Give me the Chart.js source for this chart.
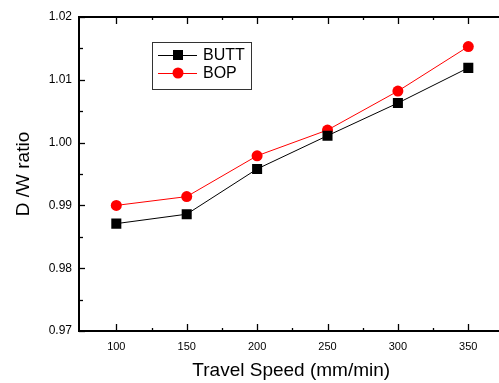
<!DOCTYPE html>
<html>
<head>
<meta charset="utf-8">
<script src="https://cdn.jsdelivr.net/npm/chart.js@4"></script>
<style>
  html, body { margin: 0; padding: 0; background: #fff; overflow: hidden; }
  #wrap { width: 499px; height: 383px; overflow: hidden; }
</style>
</head>
<body>
<div id="wrap"><canvas id="speedChart" width="520" height="383"></canvas></div>
<script>
// Data
const speeds = [100, 150, 200, 250, 300, 350];
const buttRatio = [0.9871, 0.9886, 0.9958, 1.0011, 1.0063, 1.0119];
const bopRatio = [0.9900, 0.9914, 0.9979, 1.0020, 1.0082, 1.0153];
const xTicks = [100, 150, 200, 250, 300, 350];
const yTicks = [0.97, 0.98, 0.99, 1.00, 1.01, 1.02];

const FONT = 'Arial, "Liberation Sans", sans-serif';

// frame, inward ticks and the legend box
const framePlugin = {
    id: 'frame',
    afterDraw(chart) {
        const ctx = chart.ctx;
        const area = chart.chartArea;
        const xs = chart.scales.x;
        const ys = chart.scales.y;
        ctx.save();
        ctx.strokeStyle = '#000';

        // ticks (right side is cut off in the original)
        ctx.lineWidth = 1.3;
        function xTick(v, len) {
            const px = Math.round(xs.getPixelForValue(v)) + 0.5;
            ctx.beginPath();
            ctx.moveTo(px, area.bottom); ctx.lineTo(px, area.bottom - len);
            ctx.moveTo(px, area.top); ctx.lineTo(px, area.top + len);
            ctx.stroke();
        }
        function yTick(v, len) {
            const py = Math.round(ys.getPixelForValue(v)) + 0.5;
            ctx.beginPath();
            ctx.moveTo(area.left, py); ctx.lineTo(area.left + len, py);
            ctx.stroke();
        }
        xTicks.forEach(v => xTick(v, 7));
        for (let i = 0; i < xTicks.length - 1; i++) xTick((xTicks[i] + xTicks[i + 1]) / 2, 3);
        yTicks.forEach(v => yTick(v, 6));
        for (let i = 0; i < yTicks.length - 1; i++) yTick((yTicks[i] + yTicks[i + 1]) / 2, 4);

        // frame
        ctx.lineWidth = 2;
        ctx.strokeRect(area.left, area.top, area.right - area.left, area.bottom - area.top);

        // legend
        ctx.lineWidth = 1;
        ctx.strokeStyle = '#333';
        ctx.strokeRect(152.5, 42.5, 99, 47);
        ctx.font = '16px ' + FONT;
        ctx.textBaseline = 'middle';
        chart.data.datasets.forEach((ds, i) => {
            const y = 55 + i * 18;
            ctx.strokeStyle = ds.borderColor;
            ctx.beginPath();
            ctx.moveTo(158, y + 0.5); ctx.lineTo(197, y + 0.5);
            ctx.stroke();
            ctx.fillStyle = ds.pointBackgroundColor;
            if (ds.pointStyle === 'rect') {
                ctx.fillRect(173, y - 5, 10, 10);
            } else {
                ctx.beginPath();
                ctx.arc(178, y, 5.5, 0, Math.PI * 2);
                ctx.fill();
            }
            ctx.fillStyle = '#000';
            ctx.fillText(ds.label, 203, y + 1);
        });
        ctx.restore();
    }
};

const ctx = document.getElementById('speedChart').getContext('2d');
const speedChart = new Chart(ctx, {
    type: 'line',
    data: {
        datasets: [{
            label: 'BUTT',
            data: speeds.map((s, i) => ({ x: s, y: buttRatio[i] })),
            borderColor: '#000000',
            backgroundColor: '#000000',
            pointBackgroundColor: '#000000',
            pointBorderWidth: 0,
            borderWidth: 1,
            pointStyle: 'rect',
            pointRadius: 7.1,
            tension: 0
        }, {
            label: 'BOP',
            data: speeds.map((s, i) => ({ x: s, y: bopRatio[i] })),
            borderColor: '#ff0000',
            backgroundColor: '#ff0000',
            pointBackgroundColor: '#ff0000',
            pointBorderWidth: 0,
            borderWidth: 1,
            pointStyle: 'circle',
            pointRadius: 5.5,
            tension: 0
        }]
    },
    options: {
        responsive: false,
        animation: false,
        layout: { padding: { top: 17, right: 16.5, left: 0, bottom: 0 } },
        plugins: {
            legend: { display: false },
            tooltip: { enabled: false }
        },
        scales: {
            x: {
                type: 'linear',
                min: 73.5,
                max: 375,
                grid: { display: false, drawTicks: false },
                border: { display: false },
                afterBuildTicks: (scale) => { scale.ticks = xTicks.map(v => ({ value: v })); },
                afterFit: (scale) => { scale.height = 52; },
                ticks: {
                    padding: 9,
                    color: '#000',
                    font: { family: FONT, size: 11 },
                    callback: (v) => String(v)
                },
                title: {
                    display: true,
                    text: 'Travel Speed (mm/min)',
                    color: '#000',
                    font: { family: FONT, size: 19 },
                    padding: { top: 0, bottom: 1 }
                }
            },
            y: {
                min: 0.97,
                max: 1.02,
                grid: { display: false, drawTicks: false },
                border: { display: false },
                afterBuildTicks: (scale) => { scale.ticks = yTicks.map(v => ({ value: v })); },
                afterFit: (scale) => { scale.width = 79; },
                ticks: {
                    padding: 7,
                    color: '#000',
                    font: { family: FONT, size: 12 },
                    callback: (v) => Number(v).toFixed(2)
                },
                title: {
                    display: true,
                    text: 'D /W ratio',
                    color: '#000',
                    font: { family: FONT, size: 19 },
                    padding: { top: 12, bottom: 0 }
                }
            }
        }
    },
    plugins: [framePlugin]
});
</script>
</body>
</html>
